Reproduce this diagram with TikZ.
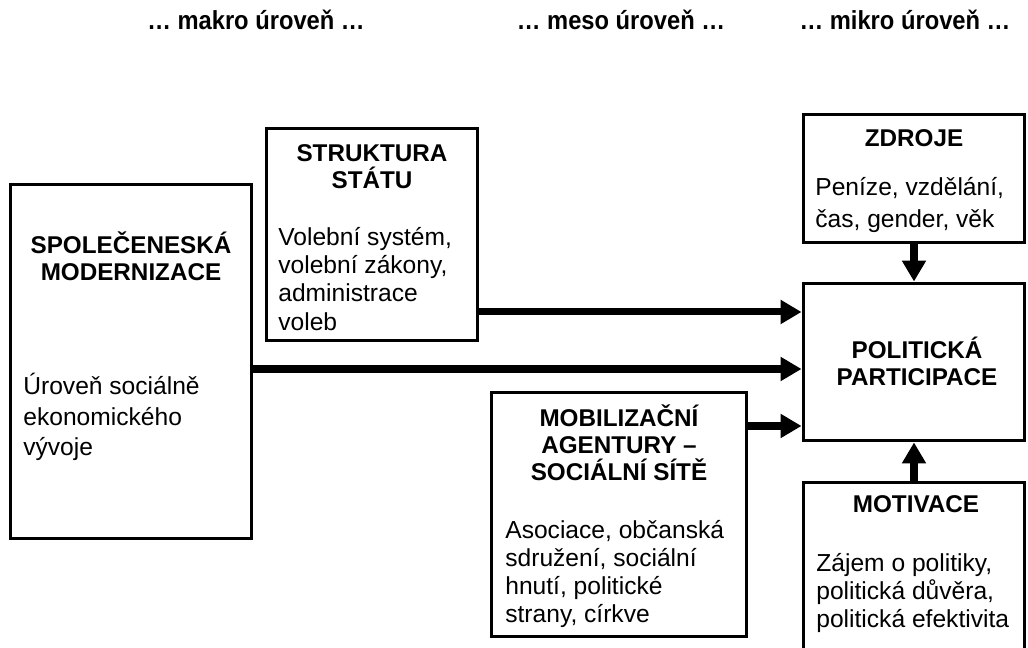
\documentclass[tikz,border=0pt]{standalone}
\usepackage{fontspec}
\setmainfont{Liberation Sans}
\usetikzlibrary{arrows.meta}

\begin{document}
\begin{tikzpicture}[x=0.02cm, y=-0.02cm,
  box/.style={draw, line width=1.7pt, inner sep=0pt},
  titletext/.style={font=\bfseries\fontsize{13.8}{15.5}\selectfont, align=center, inner sep=0pt},
  bodytext/.style={font=\fontsize{14}{16}\selectfont, align=left, anchor=west, inner sep=0pt},
  leveltext/.style={font=\bfseries\fontsize{13.5}{15}\selectfont, inner sep=0pt, yscale=1.1},
  flow/.style={line width=4pt, -{Triangle[length=0.42cm, width=0.46cm]}}]
  \useasboundingbox (0,0) rectangle (1028,648);
  \node[leveltext] (makro) at (256,20) {… makro úroveň …};
  \node[leveltext] (meso) at (621,20) {… meso úroveň …};
  \node[leveltext] (mikro) at (905,20) {… mikro úroveň …};

  \node[box, minimum width=4.84cm, minimum height=7.1cm] (modern) at (131,361.5) {};
  \node[titletext] (modern-t) at (131,256) {SPOLEČENESKÁ\\MODERNIZACE};
  \node[bodytext] (modern-b) at (23,417) {Úroveň sociálně\\[1.5pt]ekonomického\\[1.5pt]vývoje};

  \node[box, minimum width=4.24cm, minimum height=4.26cm] (struktura) at (372,234.5) {};
  \node[titletext] (struktura-t) at (372,167) {STRUKTURA\\STÁTU};
  \node[bodytext] (struktura-b) at (278,279) {Volební systém,\\volební zákony,\\administrace\\voleb};

  \node[box, minimum width=5.12cm, minimum height=4.9cm] (mobil) at (619,514.5) {};
  \node[titletext] (mobil-t) at (619,443) {MOBILIZAČNÍ\\AGENTURY –\\SOCIÁLNÍ SÍTĚ};
  \node[bodytext] (mobil-b) at (505,574) {Asociace, občanská\\sdružení, sociální\\hnutí, politické\\strany, církve};

  \node[box, minimum width=4.44cm, minimum height=2.58cm] (zdroje) at (914,178.5) {};
  \node[titletext] (zdroje-t) at (914,138) {ZDROJE};
  \node[bodytext] (zdroje-b) at (815,205) {Peníze, vzdělání,\\[2pt]čas, gender, věk};

  \node[box, minimum width=4.44cm, minimum height=3.16cm] (particip) at (914,362) {};
  \node[titletext] (particip-t) at (917,361) {POLITICKÁ\\PARTICIPACE};

  \node[box, minimum width=4.44cm, minimum height=4.36cm] (motiv) at (914,591) {};
  \node[titletext] (motiv-t) at (916,504) {MOTIVACE};
  \node[bodytext] (motiv-b) at (816,593) {Zájem o politiky,\\politická důvěra,\\politická efektivita};

  \draw[flow] ([yshift=-1.55cm]struktura.east) -- ([yshift=-1.55cm]struktura.east -| particip.west);
  \draw[flow] ([yshift=-0.15cm]modern.east) -- ([yshift=-0.15cm]modern.east -| particip.west);
  \draw[flow] ([yshift=-1.28cm]particip.west -| mobil.east) -- ([yshift=-1.28cm]particip.west);
  \draw[flow] (zdroje.south) -- (particip.north);
  \draw[flow] (motiv.north) -- (particip.south);
\end{tikzpicture}
\end{document}
